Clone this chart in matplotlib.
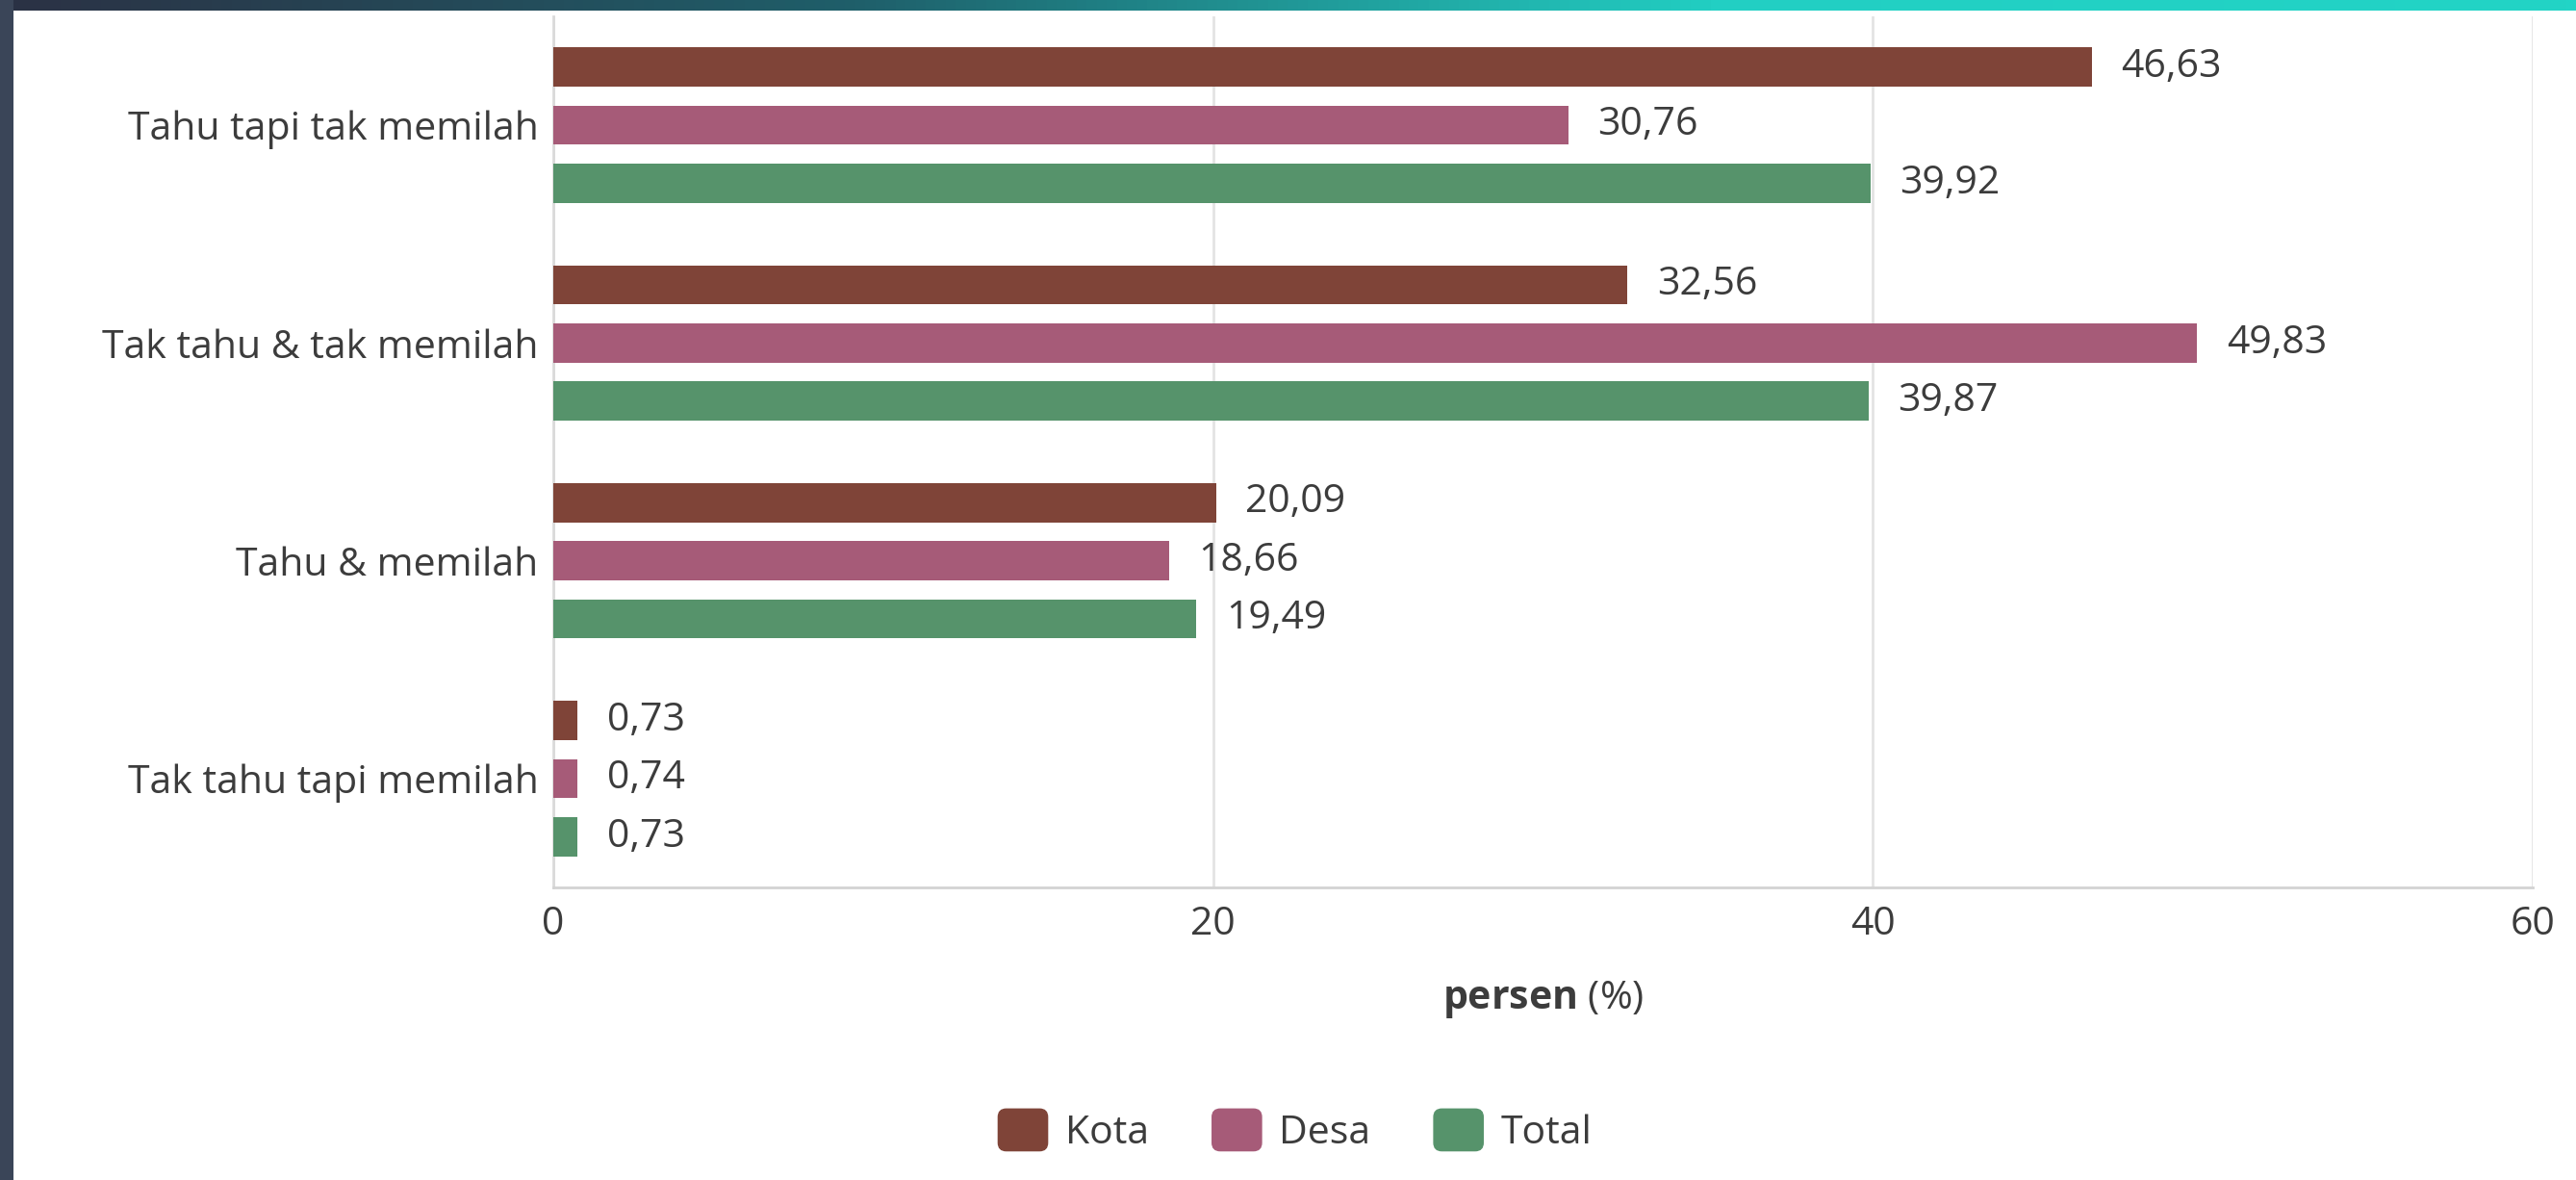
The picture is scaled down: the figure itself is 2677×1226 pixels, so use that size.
import matplotlib
matplotlib.use("Agg")
import matplotlib.pyplot as plt
import numpy as np
from matplotlib.patches import FancyBboxPatch, Patch
from matplotlib.legend_handler import HandlerPatch
from matplotlib.colors import LinearSegmentedColormap

plt.rcParams['font.family'] = ['Open Sans', 'DejaVu Sans']
plt.rcParams['mathtext.fontset'] = 'custom'
plt.rcParams['mathtext.bf'] = 'Open Sans:bold'
plt.rcParams['mathtext.rm'] = 'Open Sans'

# data
categories = ["Tahu tapi tak memilah", "Tak tahu & tak memilah", "Tahu & memilah", "Tak tahu tapi memilah"]
series_names = ["Kota", "Desa", "Total"]
kota = [46.63, 32.56, 20.09, 0.73]
desa = [30.76, 49.83, 18.66, 0.74]
total = [39.92, 39.87, 19.49, 0.73]
x_ticks = [0, 20, 40, 60]

colors = {
    "Kota": "#7f4438",
    "Desa": "#a65b78",
    "Total": "#56936b",
}
text_color = "#3c3c3c"
fs = 29.5

fig = plt.figure(figsize=(26.77, 12.26), dpi=100)
fig.patch.set_facecolor("white")

# screenshot frame: dark strip on the left, gradient strip on top
bg = fig.add_axes([0, 0, 1, 1], zorder=-10)
bg.set_axis_off()
bg.set_xlim(0, 2677)
bg.set_ylim(1226, 0)
grad = np.linspace(0, 1, 256).reshape(1, -1)
cmap = LinearSegmentedColormap.from_list("strip", ["#2b3144", "#1f5f6a", "#22cfc3", "#22d4c6"])
bg.imshow(grad, cmap=cmap, extent=[0, 2677, 11, 0], aspect="auto")
bg.add_patch(plt.Rectangle((0, 0), 14, 1226, color="#3a4558", lw=0))

ax = fig.add_axes([575 / 2677, 1 - 922 / 1226, (2632 - 575) / 2677, (922 - 17) / 1226])

y = np.arange(len(categories))
step = 0.267
height = 0.18
values = {"Kota": kota, "Desa": desa, "Total": total}
for i, name in enumerate(series_names):
    pos = y + (i - 1) * step
    bars = ax.barh(pos, values[name], height=height, color=colors[name], label=name, zorder=3)
    for b, v in zip(bars, values[name]):
        ax.annotate(f"{v:.2f}".replace(".", ","), xy=(v, b.get_y() + b.get_height() / 2),
                    xytext=(22, 0), textcoords="offset points", va="center", ha="left",
                    fontsize=fs, color=text_color)

ax.set_ylim(len(categories) - 0.5, -0.5)
ax.set_xlim(0, 60)
ax.set_yticks(y)
ax.set_yticklabels(categories)
ax.set_xticks(x_ticks)
ax.set_xticklabels([str(t) for t in x_ticks])
ax.tick_params(axis="y", length=0, pad=11, labelsize=fs, labelcolor=text_color)
ax.tick_params(axis="x", length=0, pad=13, labelsize=fs, labelcolor=text_color)

ax.grid(True, axis="x", color="#e3e3e3", linewidth=2, zorder=0)
for s in ["top", "right"]:
    ax.spines[s].set_visible(False)
ax.spines["left"].set_color("#dadada")
ax.spines["left"].set_linewidth(2)
ax.spines["bottom"].set_color("#d3d3d3")
ax.spines["bottom"].set_linewidth(2)

ax.set_xlabel("$\\mathbf{persen}$ (%)", fontsize=fs, color=text_color, labelpad=26)


def rounded_square(legend, orig_handle, xdescent, ydescent, width, height, fontsize):
    return FancyBboxPatch((-xdescent, -ydescent), width, height,
                          boxstyle="round,pad=0,rounding_size=6")


handles = [Patch(color=colors[n], label=n) for n in series_names]
fig.legend(handles=handles, loc="center", bbox_to_anchor=(1346 / 2677, 1 - 1175 / 1226),
           ncol=3, frameon=False, fontsize=fs, labelcolor=text_color,
           handlelength=1.25, handleheight=1.25, handletextpad=0.45, columnspacing=1.6,
           handler_map={Patch: HandlerPatch(patch_func=rounded_square)})

fig.savefig("out.png", dpi=100)
